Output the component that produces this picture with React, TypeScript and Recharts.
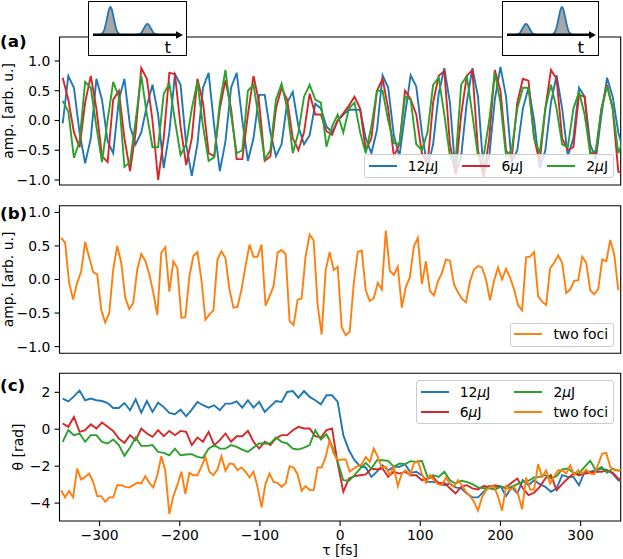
import React from 'react'
import { Area, AreaChart, Line, LineChart, ReferenceArea, ReferenceLine, XAxis, YAxis } from 'recharts'

const FONT = 'DejaVu Sans, sans-serif'
const W = 623
const BLUE = '#1f77b4'
const RED = '#d62728'
const GREEN = '#2ca02c'
const ORANGE = '#ff7f0e'

// delay grid: energy scans every 7 fs, two-foci scan every 5 fs
const T0 = -346
const DT = 7
const T0_FOCI = -348
const DT_FOCI = 5

const X_TICKS = [-300, -200, -100, 0, 100, 200, 300]
const AMP_TICKS = [-1, -0.5, 0, 0.5, 1]
const PHASE_TICKS = [-4, -2, 0, 2]

// (a) amplitude
const AMP_12 = [
  -0.05, 0.75, 0.55, -0.2, -0.72, -0.3, 0.7, 0.35, -0.35, -0.55,
  0.35, 0.7, -0.1, -0.4, -0.2, 0.25, 0.6, 0.1, -0.8, -0.2,
  0.78, 0.6, -0.4, -0.93, -0.4, 0.55, 0.8, -0.1, -0.85, -0.35,
  0.55, 0.8, 0.0, -0.68, -0.3, 0.43, 0.43, -0.2, -0.6, -0.4,
  0.3, 0.48, -0.1, -0.4, -0.25, 0.28, 0.2, -0.1, -0.2, 0.0,
  0.1, 0.18, 0.18, 0.18, -0.3, -0.55, -0.16, 0.76, 0.55, -0.25,
  -0.6, 0.1, 0.76, 0.57, -0.2, -0.8, -0.4, 0.45, 0.88, 0.3,
  -0.9, -0.6, 0.3, 0.88, 0.4, -0.85, -0.6, 0.35, 0.9, 0.4,
  -0.7, -0.5, 0.2, 0.55, 0.0, -0.8, -0.5, 0.3, 0.76, 0.2,
  -0.6, -0.3, 0.55, 0.4, -0.4, -0.65, 0.1, 0.72, 0.4, -0.2,
  -0.55,
]
const AMP_6 = [
  0.72, 0.35, -0.2, -0.45, 0.3, 0.75, 0.2, -0.6, -0.7, 0.35,
  0.5, -0.3, -0.85, -0.2, 0.88, 0.7, 0.0, -1.0, -0.3, 0.8,
  0.78, -0.1, -0.75, -0.3, 0.7, 0.3, -0.55, -0.6, 0.2, 0.68,
  0.2, -0.65, -0.65, 0.1, 0.75, 0.3, -0.68, -0.6, 0.2, 0.55,
  0.35, -0.3, -0.5, -0.2, 0.45, 0.1, 0.1, -0.18, -0.24, 0.0,
  0.12, 0.25, 0.4, 0.2, -0.5, -0.3, 0.5, 0.7, 0.2, -0.6,
  -0.4, 0.5, 0.36, 0.1, -0.55, -0.75, 0.3, 0.75, 0.83, -0.4,
  -0.9, 0.1, 0.75, 0.85, -0.5, -0.95, -0.3, 0.85, 0.5, -0.5,
  -0.65, 0.3, 0.7, 0.67, -0.3, -0.7, 0.2, 0.85, 0.7, -0.3,
  -0.5, -0.45, 0.43, 0.4, -0.55, -0.55, 0.2, 0.6, 0.2, -0.86,
  -0.9,
]
const AMP_2 = [
  0.33, 0.15, -0.63, -0.35, 0.65, 0.55, -0.1, -0.7, 0.0, 0.65,
  0.4, -0.78, -0.7, 0.0, 0.75, 0.1, -0.45, -0.45, 0.45, 0.62,
  0.0, -0.58, -0.4, 0.2, 0.65, -0.1, -0.68, -0.62, 0.3, 0.85,
  0.1, -0.55, -0.5, 0.5, 0.6, 0.0, -0.65, -0.5, 0.35, 0.62,
  0.2, -0.55, -0.2, 0.4, 0.6, 0.35, 0.3, -0.44, -0.1, 0.1,
  -0.2, 0.2, 0.3, -0.2, -0.55, -0.1, 0.5, 0.5, 0.0, -0.38,
  -0.4, 0.4, 0.35, -0.4, -0.5, -0.2, 0.6, 0.72, 0.1, -0.6,
  -0.7, 0.6, 0.75, 0.1, -0.6, -0.6, 0.0, 0.8, 0.3, -0.6,
  -0.5, 0.2, 0.55, 0.55, -0.3, -0.55, 0.2, 0.6, 0.2, -0.4,
  -0.45, 0.2, 0.48, 0.1, -0.55, -0.5, 0.2, 0.58, 0.2, -0.55,
  -0.3,
]

// (b) amplitude, two foci
const AMP_FOCI = [
  0.62, 0.55, -0.05, -0.3, -0.05, 0.12, 0.56, 0.33, 0.11, 0.08,
  -0.45, -0.64, -0.5, 0.15, 0.5, 0.25, -0.27, -0.44, -0.35, 0.15,
  0.38, 0.28, 0.08, -0.2, -0.53, 0.4, 0.48, -0.18, 0.27, 0.17,
  -0.57, -0.56, 0.05, 0.35, 0.41, 0.0, -0.6, -0.52, -0.46, 0.3,
  0.42, 0.32, -0.15, -0.42, -0.41, -0.15, 0.2, 0.52, 0.34, 0.34,
  0.52, -0.39, -0.25, -0.1, 0.4, 0.44, 0.38, -0.62, -0.68, -0.3,
  -0.28, 0.35, 0.67, 0.58, -0.38, -0.82, 0.14, 0.41, 0.14, 0.19,
  -0.71, -0.83, -0.78, -0.06, 0.41, 0.43, -0.16, -0.32, -0.28, -0.05,
  -0.15, 0.73, 0.13, 0.07, 0.19, -0.42, -0.11, 0.03, 0.49, 0.62,
  -0.07, 0.27, -0.17, -0.24, -0.03, 0.1, 0.3, 0.28, -0.07, -0.19,
  -0.29, -0.34, -0.03, 0.15, 0.2, 0.18, 0.0, -0.31, -0.02, 0.18,
  0.0, 0.16, 0.03, -0.15, -0.38, -0.46, 0.33, 0.34, 0.41, -0.25,
  -0.33, -0.38, 0.17, 0.25, 0.36, 0.25, -0.2, -0.15, -0.02, -0.01,
  0.34, 0.25, -0.16, -0.22, -0.14, 0.3, 0.27, 0.59, 0.37, -0.16,
]

// (c) phase
const PHASE_12 = [
  1.66, 1.51, 1.78, 2.1, 1.57, 1.66, 1.57, 1.53, 1.42, 1.15,
  1.15, 1.42, 1.03, 1.62, 0.9, 1.53, 0.94, 1.44, 1.2, 0.88,
  0.81, 1.06, 0.7, 1.06, 1.48, 1.3, 1.17, 1.3, 1.03, 1.39,
  1.39, 1.51, 1.17, 1.57, 1.17, 1.48, 0.94, 1.24, 1.53, 1.48,
  2.02, 2.07, 1.71, 2.07, 1.75, 1.57, 1.35, 1.84, 1.84, 1.48,
  -0.32, -1.14, -1.68, -2.0, -2.07, -2.58, -2.3, -1.95, -2.22, -2.04,
  -2.04, -1.89, -2.36, -2.3, -2.49, -2.85, -2.85, -2.9, -3.03, -2.94,
  -3.15, -3.2, -3.48, -3.69, -3.69, -3.39, -3.08, -3.12, -3.08, -3.62,
  -3.12, -3.48, -2.76, -3.03, -2.76, -2.97, -3.12, -3.39, -3.2, -2.49,
  -2.58, -2.58, -3.03, -2.3, -2.3, -2.22, -2.13, -2.22, -2.4, -2.76,
  -2.9,
]
const PHASE_6 = [
  0.31, 0.13, 0.67, -0.14, -0.05, 0.27, 0.04, 0.36, 0.13, -0.09,
  -0.5, -0.74, -0.32, -0.59, 0.04, -0.23, -0.41, -0.05, -0.38, -0.09,
  -0.32, -0.09, -0.14, -0.86, -0.45, -0.68, -0.14, -0.86, -0.59, -0.23,
  -0.68, -0.38, -0.38, -0.09, -0.68, -1.05, -0.68, -0.86, -0.5, -0.32,
  -0.32, -0.05, 0.13, 0.04, 0.04, -0.38, -0.45, -0.05, 0.04, -1.86,
  -3.39, -2.67, -2.54, -2.49, -2.45, -2.13, -2.18, -2.13, -2.58, -2.3,
  -2.4, -2.3, -2.49, -2.49, -2.76, -2.67, -2.58, -2.94, -2.9, -3.2,
  -3.48, -3.12, -3.03, -3.2, -3.26, -3.08, -3.12, -3.03, -3.12, -3.15,
  -2.9, -2.67, -3.2, -3.57, -3.44, -3.12, -2.67, -2.49, -3.3, -2.97,
  -2.67, -2.4, -2.49, -2.4, -2.36, -2.3, -2.3, -2.22, -2.36, -2.67,
  -2.9,
]
const PHASE_2 = [
  -0.68, -0.05, -0.32, -0.23, -0.68, -0.32, -0.32, -0.68, -0.77, -0.56,
  -0.86, -1.44, -0.99, -0.45, -0.9, -0.9, -0.86, -1.23, -1.28, -1.41,
  -1.05, -1.41, -1.37, -1.35, -1.5, -1.55, -1.05, -0.86, -1.05, -1.05,
  -0.86, -0.95, -1.1, -1.23, -0.99, -0.77, -0.77, -0.77, -0.45, -0.68,
  -0.77, -1.05, -1.1, -1.0, -0.86, -0.05, -0.55, -0.27, -0.9, -1.77,
  -2.76, -2.79, -2.49, -2.13, -1.82, -2.13, -1.68, -1.68, -1.71, -2.04,
  -1.86, -1.89, -1.73, -1.77, -1.71, -2.58, -2.49, -2.58, -2.3, -2.76,
  -2.94, -2.79, -2.85, -2.97, -3.15, -3.2, -3.2, -3.26, -3.12, -3.2,
  -3.12, -2.97, -2.85, -2.79, -2.61, -2.58, -2.49, -2.67, -2.54, -2.18,
  -2.13, -2.36, -2.4, -2.04, -1.71, -2.22, -2.04, -2.36, -2.13, -2.25,
  -2.13,
]
const PHASE_FOCI = [
  -3.3, -3.69, -3.35, -3.69, -2.13, -2.72, -2.58, -2.4, -2.85, -3.62,
  -3.62, -3.93, -3.69, -3.69, -3.03, -3.03, -3.12, -3.15, -3.03, -2.9,
  -2.94, -2.54, -2.9, -3.15, -2.49, -1.46, -2.25, -4.59, -3.62, -3.03,
  -2.3, -3.51, -2.36, -2.49, -2.49, -2.04, -1.5, -2.3, -2.49, -2.18,
  -1.46, -2.25, -1.86, -1.89, -2.22, -2.07, -2.3, -2.61, -2.3, -3.12,
  -4.23, -2.94, -2.4, -2.85, -2.9, -3.12, -2.94, -2.0, -2.07, -2.45,
  -3.33, -3.08, -3.3, -3.3, -2.07, -2.07, -1.5, -0.59, -1.32, -1.68,
  -1.64, -1.64, -2.3, -2.13, -2.0, -1.89, -1.5, -1.77, -1.05, -1.5,
  -2.07, -2.04, -2.49, -2.04, -3.08, -2.4, -2.22, -2.49, -1.86, -1.71,
  -2.4, -2.9, -2.49, -2.76, -2.97, -3.03, -2.61, -2.97, -3.12, -2.76,
  -3.03, -3.39, -3.62, -3.93, -4.41, -3.69, -3.3, -3.12, -3.08, -3.66,
  -4.41, -3.08, -3.3, -3.12, -3.51, -4.34, -2.61, -3.26, -3.26, -1.89,
  -2.58, -2.22, -2.94, -2.54, -2.22, -2.22, -2.4, -1.95, -2.49, -2.22,
  -2.4, -2.18, -2.4, -2.43, -1.89, -1.32, -1.28, -2.04, -2.22, -2.22,
  -2.22,
]

// inset pulse sketches
const INSET_SPAN = 86
const PULSE_OFFSETS = [-10.5, -9, -7.5, -6, -4.5, -3, -1.5, 0, 1.5, 3, 4.5, 6, 7.5, 9, 10.5]
const BIG_PULSE = [0, 0.02, 0.08, 0.19, 0.4, 0.66, 0.9, 1, 0.9, 0.66, 0.4, 0.19, 0.08, 0.02, 0]
const SMALL_PULSE = [0, 0.01, 0.03, 0.07, 0.16, 0.26, 0.35, 0.39, 0.35, 0.26, 0.16, 0.07, 0.03, 0.01, 0]
const LEFT_PULSES = [17.4, 54.4] // big first, then small
const RIGHT_PULSES = [19, 55] // small first, then big

const toPoints = (vals: number[], t0: number, dt: number) => vals.map((v, i) => ({ t: t0 + i * dt, v }))

const pulseTrain = (centers: number[], shapes: number[][]) => {
  const out: { t: number; v: number | null }[] = []
  centers.forEach((c, k) => {
    if (k > 0) out.push({ t: (centers[k - 1] + c) / 2, v: null })
    PULSE_OFFSETS.forEach((o, j) => out.push({ t: c + o, v: shapes[k][j] }))
  })
  return out
}

const minus = (s: string) => s.replace('-', '\u2212')
const fmt1 = (v: number) => minus(v.toFixed(1))
const fmt0 = (v: number) => minus(String(v))

const tickStyle = { fill: '#000', fontSize: 13.9, fontFamily: FONT }
const tickLine = { stroke: '#000', strokeWidth: 1.1 }

type Series = { name: string; color: string; data: { t: number; v: number }[] }

function Panel({
  top, height, marginTop, axisHeight, domain, yTicks, yFormat, series, xLabels,
}: {
  top: number; height: number; marginTop: number; axisHeight: number; domain: [number, number]
  yTicks: number[]; yFormat: (v: number) => string; series: Series[]; xLabels: boolean
}) {
  return (
    <div style={{ position: 'absolute', left: 0, top }}>
      <LineChart width={W} height={height} margin={{ top: marginTop, right: 2.3, bottom: 0, left: 0 }}>
        <XAxis
          type="number"
          dataKey="t"
          domain={[-350, 350]}
          allowDataOverflow
          ticks={X_TICKS}
          interval={0}
          height={axisHeight}
          axisLine={false}
          tickLine={tickLine}
          tickSize={4.9}
          tickMargin={4}
          tick={xLabels ? tickStyle : false}
          tickFormatter={fmt0}
        />
        <YAxis
          type="number"
          domain={domain}
          allowDataOverflow
          ticks={yTicks}
          interval={0}
          width={59.5}
          axisLine={false}
          tickLine={tickLine}
          tickSize={4.9}
          tickMargin={4.3}
          tick={tickStyle}
          tickFormatter={yFormat}
        />
        {series.map((s) => (
          <Line
            key={s.name}
            data={s.data}
            dataKey="v"
            type="linear"
            stroke={s.color}
            strokeWidth={1.9}
            dot={false}
            activeDot={false}
            isAnimationActive={false}
          />
        ))}
        <ReferenceArea
          x1={-350}
          x2={350}
          y1={domain[0]}
          y2={domain[1]}
          fill="none"
          fillOpacity={0}
          stroke="#000"
          strokeWidth={1.1}
          ifOverflow="visible"
        />
      </LineChart>
    </div>
  )
}

function Inset({ boxLeft, boxWidth, plotLeft, data }: {
  boxLeft: number; boxWidth: number; plotLeft: number; data: { t: number; v: number | null }[]
}) {
  return (
    <>
      <div
        style={{
          position: 'absolute', left: boxLeft, top: 1, width: boxWidth, height: 54.5,
          border: '1.3px solid #000', boxSizing: 'border-box', background: '#fff',
        }}
      />
      <div style={{ position: 'absolute', left: plotLeft, top: 5.3 }}>
        <AreaChart width={INSET_SPAN} height={32.7} data={data} margin={{ top: 2, right: 0, bottom: 3, left: 0 }}>
          <XAxis hide type="number" dataKey="t" domain={[0, INSET_SPAN]} />
          <YAxis hide type="number" domain={[0, 1]} />
          <Area
            dataKey="v"
            type="monotone"
            stroke={BLUE}
            strokeWidth={1.8}
            fill="#a6a6a6"
            fillOpacity={1}
            connectNulls={false}
            dot={false}
            activeDot={false}
            isAnimationActive={false}
          />
          <ReferenceLine y={0} stroke="#000" strokeWidth={2.5} ifOverflow="visible" />
        </AreaChart>
      </div>
    </>
  )
}

const muLabel = (n: string) => (
  <>
    {n}
    <i>μ</i>J
  </>
)

function LegendBox({ pos, rows, items }: {
  pos: React.CSSProperties; rows: number; items: { label: React.ReactNode; color: string }[]
}) {
  return (
    <div
      style={{
        position: 'absolute', ...pos, display: 'grid', gridTemplateRows: `repeat(${rows}, 14px)`,
        gridAutoFlow: 'column', columnGap: 24, rowGap: 6, padding: '3.5px 5px 4.5px 3.5px',
        border: '1px solid #cccccc', borderRadius: 3, background: 'rgba(255,255,255,0.8)',
        fontFamily: FONT, fontSize: 13.9, lineHeight: '14px', color: '#000',
      }}
    >
      {items.map((it, k) => (
        <div key={k} style={{ display: 'flex', alignItems: 'center', whiteSpace: 'nowrap' }}>
          <div style={{ width: 28, height: 2, background: it.color, marginRight: 11, flex: 'none' }} />
          <span>{it.label}</span>
        </div>
      ))}
    </div>
  )
}

export default function App() {
  const ampSeries: Series[] = [
    { name: '12', color: BLUE, data: toPoints(AMP_12, T0, DT) },
    { name: '6', color: RED, data: toPoints(AMP_6, T0, DT) },
    { name: '2', color: GREEN, data: toPoints(AMP_2, T0, DT) },
  ]
  const fociSeries: Series[] = [{ name: 'foci', color: ORANGE, data: toPoints(AMP_FOCI, T0_FOCI, DT_FOCI) }]
  const phaseSeries: Series[] = [
    { name: '12', color: BLUE, data: toPoints(PHASE_12, T0, DT) },
    { name: '6', color: RED, data: toPoints(PHASE_6, T0, DT) },
    { name: '2', color: GREEN, data: toPoints(PHASE_2, T0, DT) },
    { name: 'foci', color: ORANGE, data: toPoints(PHASE_FOCI, T0_FOCI, DT_FOCI) },
  ]

  return (
    <div style={{ position: 'absolute', left: 0, top: 0, width: W, height: 559, background: '#fff', fontFamily: FONT, overflow: 'hidden' }}>
      <Panel top={0} height={200} marginTop={37} axisHeight={15} domain={[-1.084, 1.403]} yTicks={AMP_TICKS} yFormat={fmt1} series={ampSeries} xLabels={false} />
      <Panel top={190} height={180} marginTop={15.7} axisHeight={16.7} domain={[-1.1, 1.1]} yTicks={AMP_TICKS} yFormat={fmt1} series={fociSeries} xLabels={false} />
      <Panel top={360} height={199} marginTop={13.3} axisHeight={38} domain={[-4.97, 3.03]} yTicks={PHASE_TICKS} yFormat={fmt0} series={phaseSeries} xLabels />

      <Inset boxLeft={88.3} boxWidth={98.4} plotLeft={93.3} data={pulseTrain(LEFT_PULSES, [BIG_PULSE, SMALL_PULSE])} />
      <Inset boxLeft={501.7} boxWidth={97.5} plotLeft={506.7} data={pulseTrain(RIGHT_PULSES, [SMALL_PULSE, BIG_PULSE])} />

      <LegendBox
        pos={{ right: 9, top: 154 }}
        rows={1}
        items={[
          { label: muLabel('12'), color: BLUE },
          { label: muLabel('6'), color: RED },
          { label: muLabel('2'), color: GREEN },
        ]}
      />
      <LegendBox pos={{ right: 9, top: 322.7 }} rows={1} items={[{ label: 'two foci', color: ORANGE }]} />
      <LegendBox
        pos={{ right: 9, top: 380.3 }}
        rows={2}
        items={[
          { label: muLabel('12'), color: BLUE },
          { label: muLabel('6'), color: RED },
          { label: muLabel('2'), color: GREEN },
          { label: 'two foci', color: ORANGE },
        ]}
      />

      <svg width={W} height={559} style={{ position: 'absolute', left: 0, top: 0, pointerEvents: 'none' }} fontFamily={FONT}>
        <text x={0} y={47} fontSize={16.7} fontWeight="bold">(a)</text>
        <text x={0} y={218.5} fontSize={16.7} fontWeight="bold">(b)</text>
        <text x={0} y={390.5} fontSize={16.7} fontWeight="bold">(c)</text>
        <text transform="translate(13,111) rotate(-90)" textAnchor="middle" fontSize={13.9}>amp. [arb. u.]</text>
        <text transform="translate(13,279.5) rotate(-90)" textAnchor="middle" fontSize={13.9}>amp. [arb. u.]</text>
        <text transform="translate(23,447) rotate(-90)" textAnchor="middle" fontSize={13.9}>θ [rad]</text>
        <text x={340} y={555} textAnchor="middle" fontSize={13.9}>τ [fs]</text>
        <text x={164.5} y={53} fontSize={16.7}>t</text>
        <text x={577.5} y={53} fontSize={16.7}>t</text>
        <polygon points="176,31.3 183,35 176,38.7" fill="#000" />
        <polygon points="589,31.3 596,35 589,38.7" fill="#000" />
      </svg>
    </div>
  )
}
